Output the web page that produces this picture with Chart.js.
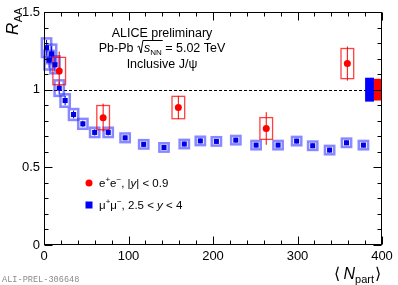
<!DOCTYPE html>
<html><head><meta charset="utf-8">
<script src="https://cdn.jsdelivr.net/npm/chart.js@4/dist/chart.umd.min.js"></script>
<style>html,body{margin:0;padding:0;background:#fff}canvas{display:block}</style>
</head><body>
<div style="width:398px;height:285px"><canvas id="c" width="398" height="285"></canvas></div>
<script>
// mu+mu-, 2.5<y<4
const muNpart = [3, 6, 9, 13, 18, 25, 35, 46, 60, 76, 96, 118, 142, 166, 185, 204, 227, 251, 277, 299, 318, 338, 358, 378];
const muRaa   = [1.27, 1.19, 1.23, 1.16, 1.01, 0.93, 0.84, 0.78, 0.725, 0.725, 0.69, 0.648, 0.628, 0.65, 0.67, 0.667, 0.675, 0.643, 0.643, 0.669, 0.639, 0.611, 0.658, 0.643];
const muStat  = [0.05, 0.05, 0.05, 0.045, 0.04, 0.03, 0.025, 0.02, 0.02, 0.02, 0.015, 0.015, 0.015, 0.015, 0.015, 0.015, 0.015, 0.015, 0.015, 0.015, 0.015, 0.015, 0.015, 0.015];
const muSys   = [0.06, 0.06, 0.06, 0.055, 0.05, 0.04, 0.035, 0.032, 0.03, 0.03, 0.028, 0.027, 0.027, 0.027, 0.027, 0.027, 0.027, 0.027, 0.027, 0.027, 0.027, 0.027, 0.027, 0.027];
// e+e-, |y|<0.9
const eeNpart = [18, 70, 159, 263, 359];
const eeRaa   = [1.12, 0.82, 0.885, 0.75, 1.168];
const eeStat  = [0.125, 0.09, 0.075, 0.105, 0.11];
const eeSys   = [0.088, 0.078, 0.072, 0.07, 0.097];
// global uncertainties
const muGlobal = 0.077;
const eeGlobal = 0.07;
// ticks
const xTicks = [0, 100, 200, 300, 400];
const yTicks = [0, 0.5, 1, 1.5];

const BLUE = 'rgb(0,0,255)';
const RED = 'rgb(255,0,0)';
const SANS = '"Liberation Sans", Arial, sans-serif';

const boxesPlugin = {
  id: 'boxes',
  beforeDatasetsDraw(chart) {
    const ctx = chart.ctx, xs = chart.scales.x, ys = chart.scales.y;
    ctx.save();
    // unity line
    ctx.strokeStyle = '#000'; ctx.lineWidth = 1; ctx.setLineDash([3, 2]);
    ctx.beginPath();
    ctx.moveTo(xs.getPixelForValue(0), Math.round(ys.getPixelForValue(1)) + 0.5);
    ctx.lineTo(xs.getPixelForValue(400), Math.round(ys.getPixelForValue(1)) + 0.5);
    ctx.stroke();
    ctx.setLineDash([]);
    // global boxes
    ctx.fillStyle = BLUE;
    let x0 = xs.getPixelForValue(380), x1 = xs.getPixelForValue(390.5);
    ctx.fillRect(x0, ys.getPixelForValue(1 + muGlobal), x1 - x0, ys.getPixelForValue(1 - muGlobal) - ys.getPixelForValue(1 + muGlobal));
    ctx.fillStyle = RED;
    x0 = xs.getPixelForValue(390.5); x1 = xs.getPixelForValue(400);
    ctx.fillRect(x0, ys.getPixelForValue(1 + eeGlobal), x1 - x0, ys.getPixelForValue(1 - eeGlobal) - ys.getPixelForValue(1 + eeGlobal));
    // mu boxes
    muNpart.forEach((n, i) => {
      const l = xs.getPixelForValue(n - 5.5), r = xs.getPixelForValue(n + 5.5);
      const t = ys.getPixelForValue(muRaa[i] + muSys[i]), b = ys.getPixelForValue(muRaa[i] - muSys[i]);
      ctx.strokeStyle = 'rgba(40,40,255,0.55)'; ctx.lineWidth = 2.5;
      ctx.strokeRect(l, t, r - l, b - t);
      ctx.strokeStyle = BLUE; ctx.lineWidth = 1;
      const x = xs.getPixelForValue(n);
      ctx.beginPath();
      ctx.moveTo(x, ys.getPixelForValue(muRaa[i] + muStat[i]));
      ctx.lineTo(x, ys.getPixelForValue(muRaa[i] - muStat[i]));
      ctx.stroke();
    });
    // ee boxes
    eeNpart.forEach((n, i) => {
      const l = xs.getPixelForValue(n - 7.5), r = xs.getPixelForValue(n + 7.5);
      const t = ys.getPixelForValue(eeRaa[i] + eeSys[i]), b = ys.getPixelForValue(eeRaa[i] - eeSys[i]);
      ctx.strokeStyle = 'rgba(255,0,0,0.75)'; ctx.lineWidth = 1.3;
      ctx.strokeRect(l, t, r - l, b - t);
      ctx.strokeStyle = RED; ctx.lineWidth = 1;
      const x = xs.getPixelForValue(n);
      ctx.beginPath();
      ctx.moveTo(x, ys.getPixelForValue(eeRaa[i] + eeStat[i]));
      ctx.lineTo(x, ys.getPixelForValue(eeRaa[i] - eeStat[i]));
      ctx.stroke();
    });
    ctx.restore();
  },
  afterDraw(chart) {
    const ctx = chart.ctx, xs = chart.scales.x, ys = chart.scales.y;
    const a = chart.chartArea;
    ctx.save();
    ctx.strokeStyle = '#000'; ctx.lineWidth = 1;
    const L = Math.round(a.left) + 0.5, R = Math.round(a.right) - 0.5, T = Math.round(a.top) + 0.5, B = Math.round(a.bottom) - 0.5;
    ctx.strokeRect(L, T, R - L, B - T);
    ctx.beginPath();
    for (let v = 0; v <= 400.001; v += 20) {
      const major = Math.abs(v % 100) < 1e-6;
      const len = major ? 8 : 4;
      const x = Math.round(xs.getPixelForValue(v)) + 0.5;
      ctx.moveTo(x, B); ctx.lineTo(x, B - len);
      ctx.moveTo(x, T); ctx.lineTo(x, T + len);
    }
    for (let k = 0; k <= 15; k++) {
      const v = k / 10;
      const major = k % 5 === 0;
      const len = major ? 8 : 4;
      const y = Math.round(ys.getPixelForValue(v)) + 0.5;
      ctx.moveTo(L, y); ctx.lineTo(L + len, y);
      ctx.moveTo(R, y); ctx.lineTo(R - len, y);
    }
    ctx.stroke();

    ctx.fillStyle = '#000';
    ctx.textBaseline = 'alphabetic';
    // Y title R_AA
    ctx.save();
    ctx.translate(18, 35);
    ctx.rotate(-Math.PI / 2);
    ctx.font = 'italic 17px ' + SANS;
    ctx.fillText('R', 0, 0);
    const rw = ctx.measureText('R').width;
    ctx.font = '11px ' + SANS;
    ctx.fillText('AA', rw + 0.5, 4);
    ctx.restore();

    // X title <N_part>
    ctx.font = '16px ' + SANS;
    const lb = '\u27E8', rb = '\u27E9';
    const wl = ctx.measureText(lb).width, wr = ctx.measureText(rb).width;
    ctx.font = 'italic 16px ' + SANS;
    const wN = ctx.measureText('N').width;
    ctx.font = '11px ' + SANS;
    const wp = ctx.measureText('part').width;
    let xx = 381 - (wl + 3 + wN + wp + 1 + wr);
    const by = 279;
    ctx.font = '16px ' + SANS; ctx.fillText(lb, xx, by); xx += wl + 3;
    ctx.font = 'italic 16px ' + SANS; ctx.fillText('N', xx, by); xx += wN;
    ctx.font = '11px ' + SANS; ctx.fillText('part', xx, by + 4); xx += wp + 1;
    ctx.font = '16px ' + SANS; ctx.fillText(rb, xx, by);

    // Preliminary label
    ctx.font = '8.6px "Liberation Mono", "DejaVu Sans Mono", monospace';
    ctx.fillStyle = '#8a8a8a';
    ctx.fillText('ALI-PREL-306648', 2, 282);

    // Text block
    ctx.fillStyle = '#000';
    const cx = 162;
    ctx.font = '12.5px ' + SANS;
    ctx.textAlign = 'center';
    ctx.fillText('ALICE preliminary', cx, 36.5);
    ctx.fillText('Inclusive J/\u03C8', cx, 67.5);
    ctx.textAlign = 'left';
    // line 2: Pb-Pb sqrt(s_NN) = 5.02 TeV
    ctx.font = '12.5px ' + SANS;
    const p1 = 'Pb-Pb ', p3 = ' = 5.02 TeV';
    const w1 = ctx.measureText(p1).width, w3 = ctx.measureText(p3).width;
    const wsq = 7;
    ctx.font = 'italic 12.5px ' + SANS;
    const ws = ctx.measureText('s').width;
    ctx.font = '8px ' + SANS;
    const wnn = ctx.measureText('NN').width;
    const total = w1 + wsq + ws + wnn + w3;
    let px = cx - total / 2;
    const ly = 52;
    ctx.font = '12.5px ' + SANS;
    ctx.fillText(p1, px, ly); px += w1;
    // radical sign
    ctx.lineWidth = 1; ctx.strokeStyle = '#000';
    ctx.beginPath();
    ctx.moveTo(px + 0.5, ly - 5);
    ctx.lineTo(px + 2, ly - 6);
    ctx.lineTo(px + 4, ly + 1);
    ctx.lineTo(px + 6, ly - 11.5);
    ctx.lineTo(px + wsq + ws + wnn + 1, ly - 11.5);
    ctx.stroke();
    px += wsq;
    ctx.font = 'italic 12.5px ' + SANS; ctx.fillText('s', px, ly); px += ws;
    ctx.font = '8px ' + SANS; ctx.fillText('NN', px, ly + 3); px += wnn;
    ctx.font = '12.5px ' + SANS; ctx.fillText(p3, px, ly);

    // Legend
    const drawPieces = (pieces, x, y) => {
      for (const p of pieces) {
        ctx.font = p.f;
        ctx.fillText(p.t, x, y + (p.dy || 0));
        x += ctx.measureText(p.t).width;
      }
    };
    const F = '11.5px ' + SANS, FI = 'italic 11.5px ' + SANS, FS = '8px ' + SANS;
    ctx.fillStyle = RED;
    ctx.beginPath(); ctx.arc(89, 183, 3.5, 0, Math.PI * 2); ctx.fill();
    ctx.fillStyle = BLUE;
    ctx.fillRect(85.5, 201.5, 7, 7);
    ctx.fillStyle = '#000';
    drawPieces([{t:'e', f:F}, {t:'+', f:FS, dy:-5}, {t:'e', f:F}, {t:'\u2212', f:FS, dy:-5}, {t:', |', f:F}, {t:'y', f:FI}, {t:'| < 0.9', f:F}], 99, 187);
    drawPieces([{t:'\u03BC', f:F}, {t:'+', f:FS, dy:-5}, {t:'\u03BC', f:F}, {t:'\u2212', f:FS, dy:-5}, {t:', 2.5 < ', f:F}, {t:'y', f:FI}, {t:' < 4', f:F}], 99, 209);
    ctx.restore();
  }
};

new Chart(document.getElementById('c'), {
  type: 'scatter',
  data: {
    datasets: [
      {
        label: '\u03BC\u207A\u03BC\u207B, 2.5 < y < 4',
        data: muNpart.map((n, i) => ({x: n, y: muRaa[i]})),
        pointStyle: 'rect', pointRadius: 3.6, backgroundColor: 'rgb(0,0,230)', borderColor: 'rgb(0,0,230)', borderWidth: 0
      },
      {
        label: 'e\u207Ae\u207B, |y| < 0.9',
        data: eeNpart.map((n, i) => ({x: n, y: eeRaa[i]})),
        pointStyle: 'circle', pointRadius: 3.5, backgroundColor: RED, borderColor: RED, borderWidth: 0
      }
    ]
  },
  options: {
    responsive: false,
    animation: false,
    devicePixelRatio: 1,
    layout: {padding: {top: 12, right: 16, left: 0, bottom: 0}},
    plugins: {legend: {display: false}, tooltip: {enabled: false}},
    scales: {
      x: {
        type: 'linear', min: 0, max: 400,
        afterFit: s => { s.height = 40; },
        afterBuildTicks: s => { s.ticks = xTicks.map(v => ({value: v})); },
        grid: {display: false, drawTicks: false},
        border: {display: false},
        ticks: {color: '#000', font: {family: SANS, size: 13}, padding: 4, maxRotation: 0, autoSkip: false}
      },
      y: {
        type: 'linear', min: 0, max: 1.5,
        afterFit: s => { s.width = 44; },
        afterBuildTicks: s => { s.ticks = yTicks.map(v => ({value: v})); },
        grid: {display: false, drawTicks: false},
        border: {display: false},
        ticks: {color: '#000', font: {family: SANS, size: 13}, padding: 4, callback: v => String(v)}
      }
    }
  },
  plugins: [boxesPlugin]
});
</script>
</body></html>
